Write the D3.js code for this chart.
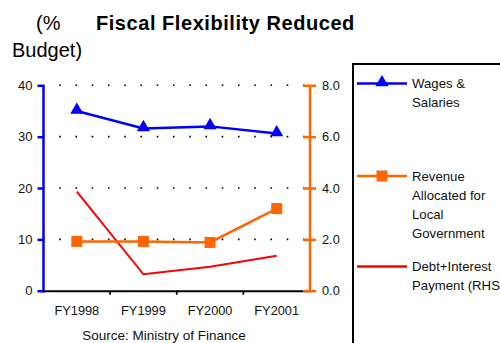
<!DOCTYPE html>
<html>
<head>
<meta charset="utf-8">
<script src="https://cdn.jsdelivr.net/npm/d3@7"></script>
<style>
  html, body { margin: 0; padding: 0; background: #fff; }
  svg { display: block; font-family: "Liberation Sans", Arial, sans-serif; }
</style>
</head>
<body>
<svg id="chart" width="500" height="343"></svg>
<script>
// Fiscal years on the category axis
const years = ["FY1998", "FY1999", "FY2000", "FY2001"];
// Share of budget (left axis, %)
const wages = [35.0, 31.6, 32.0, 30.6];
const revenueLocal = [9.6, 9.6, 9.4, 16.0];
// Debt + interest payment (right axis)
const debtInterest = [3.86, 0.64, 0.93, 1.36];
// Axis tick values
const leftTicks = [0, 10, 20, 30, 40];
const rightTicks = [0, 2, 4, 6, 8];

const svg = d3.select("#chart");
const m = { left: 43.5, right: 310, top: 85.3, bottom: 290.7 };

const x = d3.scaleBand().domain(years).range([m.left, m.right]);
const yL = d3.scaleLinear().domain([0, 40]).range([m.bottom, m.top]);
const yR = d3.scaleLinear().domain([0, 8]).range([m.bottom, m.top]);
const cx = d => x(d) + x.bandwidth() / 2;

// Titles
svg.append("text").attr("x", 36).attr("y", 30).attr("font-size", 20).text("(%");
svg.append("text").attr("x", 96).attr("y", 30).attr("font-size", 20)
  .attr("font-weight", "bold").attr("letter-spacing", 0.55).text("Fiscal Flexibility Reduced");
svg.append("text").attr("x", 12).attr("y", 57).attr("font-size", 20).text("Budget)");

// Dotted gridlines
svg.append("g").selectAll("line").data(leftTicks.slice(1)).join("line")
  .attr("x1", m.left).attr("x2", m.right + 1)
  .attr("y1", d => yL(d)).attr("y2", d => yL(d))
  .attr("stroke", "#000").attr("stroke-width", 1.6)
  .attr("stroke-dasharray", "1.6 14.65")
  .attr("stroke-dashoffset", -15.7);

// Left axis
const gL = svg.append("g").attr("transform", `translate(${m.left},0)`)
  .call(d3.axisLeft(yL).tickValues(leftTicks).tickSize(6).tickPadding(5));
gL.select(".domain").attr("stroke", "#0000ff").attr("stroke-width", 2.5)
  .attr("d", `M0,${m.bottom + 2}V${m.top}`);
gL.selectAll(".tick line").attr("stroke", "#0000ff").attr("stroke-width", 2.5);
gL.selectAll(".tick text").attr("font-size", 13).attr("fill", "#111")
  .attr("font-family", "Liberation Sans, Arial, sans-serif");

// Bottom axis
const gB = svg.append("g").attr("transform", `translate(0,${m.bottom})`)
  .call(d3.axisBottom(x).tickSize(0).tickPadding(15));
gB.select(".domain").attr("stroke", "#000").attr("stroke-width", 2);
gB.selectAll(".tick text").attr("font-size", 12.8).attr("fill", "#111")
  .attr("font-family", "Liberation Sans, Arial, sans-serif");
svg.append("g").selectAll("line").data(years.slice(1)).join("line")
  .attr("x1", d => x(d)).attr("x2", d => x(d))
  .attr("y1", m.bottom).attr("y2", m.bottom + 4)
  .attr("stroke", "#000").attr("stroke-width", 1.8);

// Right axis
const gR = svg.append("g").attr("transform", `translate(${m.right},0)`)
  .call(d3.axisRight(yR).tickValues(rightTicks).tickFormat(d3.format(".1f"))
    .tickSize(6).tickPadding(6));
gR.select(".domain").attr("stroke", "#ff6600").attr("stroke-width", 2.5)
  .attr("d", `M0,${m.bottom + 1}V${m.top}`);
gR.selectAll(".tick line").attr("stroke", "#ff6600").attr("stroke-width", 2.5)
  .attr("x1", -7);
gR.selectAll(".tick text").attr("font-size", 12.8).attr("fill", "#111")
  .attr("font-family", "Liberation Sans, Arial, sans-serif");

// Series lines
const lineL = d3.line().x((d, i) => cx(years[i])).y(d => yL(d));
const lineR = d3.line().x((d, i) => cx(years[i])).y(d => yR(d));

svg.append("path").datum(debtInterest).attr("d", lineR)
  .attr("fill", "none").attr("stroke", "#ff0000").attr("stroke-width", 2);

svg.append("path").datum(revenueLocal).attr("d", lineL)
  .attr("fill", "none").attr("stroke", "#ff6600").attr("stroke-width", 2.5);
svg.append("g").selectAll("rect").data(revenueLocal).join("rect")
  .attr("x", (d, i) => cx(years[i]) - 5.5).attr("y", d => yL(d) - 5.5)
  .attr("width", 11).attr("height", 11).attr("fill", "#ff6600");

svg.append("path").datum(wages).attr("d", lineL)
  .attr("fill", "none").attr("stroke", "#0000ff").attr("stroke-width", 2.5);
const tri = d3.symbol().type(d3.symbolTriangle).size(75);
svg.append("g").selectAll("path").data(wages).join("path")
  .attr("transform", (d, i) => `translate(${cx(years[i])},${yL(d) - 1})`)
  .attr("d", tri).attr("fill", "#0000ff");

// Legend
const lg = svg.append("g");
lg.append("rect").attr("x", 353).attr("y", 64).attr("width", 160).attr("height", 300)
  .attr("fill", "#fff").attr("stroke", "#000").attr("stroke-width", 2);

const legendItems = [
  { color: "#0000ff", marker: "triangle", y: 83.5, lines: ["Wages &", "Salaries"] },
  { color: "#ff6600", marker: "square", y: 176, lines: ["Revenue", "Allocated for", "Local", "Government"] },
  { color: "#ff0000", marker: null, y: 266.5, lines: ["Debt+Interest", "Payment (RHS)"] }
];
legendItems.forEach(it => {
  lg.append("line").attr("x1", 357).attr("x2", 407).attr("y1", it.y).attr("y2", it.y)
    .attr("stroke", it.color).attr("stroke-width", 2.5);
  if (it.marker === "triangle") {
    lg.append("path").attr("transform", `translate(382,${it.y - 1})`)
      .attr("d", tri).attr("fill", it.color);
  } else if (it.marker === "square") {
    lg.append("rect").attr("x", 376.5).attr("y", it.y - 5.5).attr("width", 11).attr("height", 11)
      .attr("fill", it.color);
  }
  it.lines.forEach((t, k) => {
    lg.append("text").attr("x", 412).attr("y", it.y + 4.5 + k * 19)
      .attr("font-size", 13.2).attr("fill", "#111").text(t);
  });
});

// Source note
svg.append("text").attr("x", 164).attr("y", 340).attr("text-anchor", "middle")
  .attr("font-size", 13.5).attr("fill", "#111").text("Source: Ministry of Finance");
</script>
</body>
</html>
